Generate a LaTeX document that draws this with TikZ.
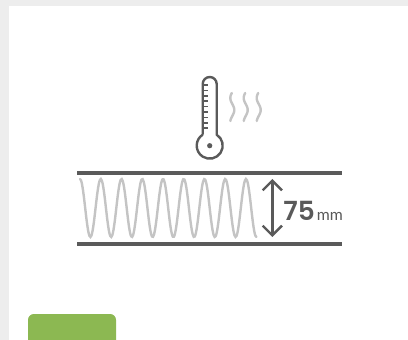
\documentclass[tikz,border=0pt]{standalone}
\usepackage{fontspec}
\setmainfont{Poppins}[BoldFont={Poppins SemiBold}]
\newfontfamily\unitfont{Lato}
\usetikzlibrary{arrows.meta}

\begin{document}
\begin{tikzpicture}[
  x=0.02cm, y=-0.02cm,
  plate/.style={line width=4*0.5669pt, draw=darkline},
  icon/.style={line width=2.4*0.5669pt, draw=darkline},
  coil/.style={line width=2.4*0.5669pt, draw=lightline, line cap=round},
  arrow/.style={{Straight Barb[length=5.5pt,width=11pt]}-{Straight Barb[length=5.5pt,width=11pt]}, line width=2.4*0.5669pt, draw=darkline},
  every node/.style={text=darkline, inner sep=0pt, anchor=base west}
]
\definecolor{darkline}{HTML}{5A5A5A}
\definecolor{lightline}{HTML}{C4C4C4}
\definecolor{paper}{HTML}{EDEDED}
\definecolor{btn}{HTML}{8CB852}
\useasboundingbox (0,0) rectangle (408,340);

% background
\fill[paper] (0,0) rectangle (408,340);
\fill[white] (9,6) rectangle (408,340);
\fill[btn, rounded corners=6*0.5669pt] (28,340) -- (28,314) -- (116,314) -- (116,340);

% thermometer
\draw[icon] (202.7,134.7) -- (202.7,84) arc[start angle=180, end angle=360, radius=7] -- (216.7,134.7)
  arc[start angle=-57.4, end angle=237.4, radius=13];
\foreach \y in {85,90.4,...,129}
  \draw[icon, line width=1.6*0.5669pt] (203,\y) -- (208,\y);
\fill[darkline] (209.7,145.7) circle (2.6);

% heat waves
\foreach \c in {232.3,245.7,258.7}
  \draw[coil, domain=93:121, samples=29, smooth, variable=\t]
    plot ({\c-2*cos(360*(\t-98)/24)}, \t);

% plates
\draw[plate] (77,172.7) -- (342,172.7);
\draw[plate] (77,244) -- (342,244);

% spring
\draw[coil, domain=0:8.5, samples=170, smooth]
  plot ({80+\x*20.75}, {208-29*cos(360*\x)});

% height
\coordinate (up) at (272.3,179);
\coordinate (down) at (272.3,237);
\draw[arrow] (up) -- (down);
\node (val) at (283,221) {\fontsize{15pt}{15pt}\selectfont\bfseries 75};
\node (unit) at (316.5,221) {\unitfont\fontsize{9pt}{9pt}\selectfont mm};
\end{tikzpicture}
\end{document}
